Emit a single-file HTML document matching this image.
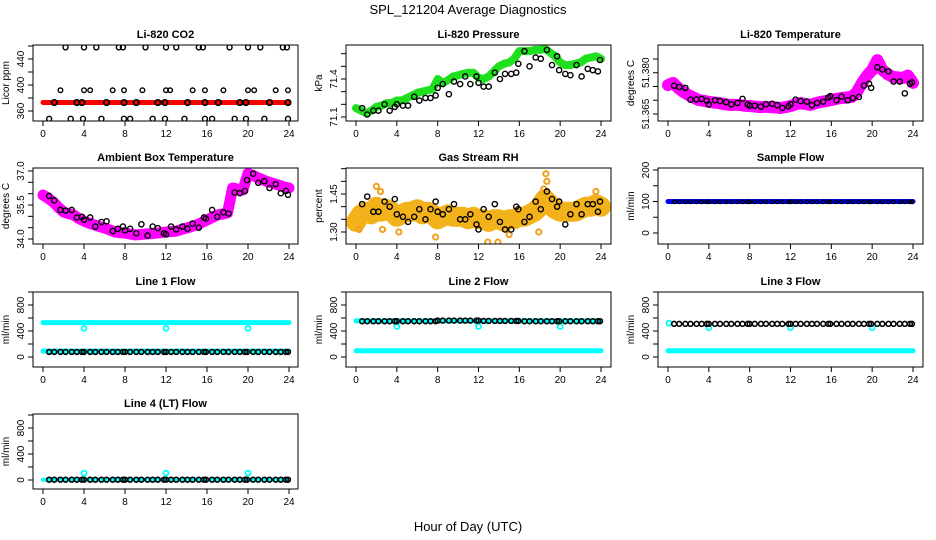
<!DOCTYPE html>
<html><head><meta charset="utf-8">
<style>
html,body{margin:0;padding:0;background:#fff;}
svg{display:block;font-family:"Liberation Sans",Arial,sans-serif;}
</style></head>
<body>
<svg id="chart" width="936" height="540" viewBox="0 0 936 540" xmlns="http://www.w3.org/2000/svg">
<text x="468" y="14" text-anchor="middle" font-size="13">SPL_121204  Average Diagnostics</text>
<text x="468" y="531" text-anchor="middle" font-size="13">Hour of Day (UTC)</text>
</svg>
<script>
// ---------- DATA ----------
const halfHours = [0,0.5,1,1.5,2,2.5,3,3.5,4,4.5,5,5.5,6,6.5,7,7.5,8,8.5,9,9.5,10,10.5,11,11.5,12,12.5,13,13.5,14,14.5,15,15.5,16,16.5,17,17.5,18,18.5,19,19.5,20,20.5,21,21.5,22,22.5,23,23.5,24];
const blackTimes = [0.6,1.1,1.7,2.2,2.8,3.3,3.8,4,4.6,5.1,5.7,6.2,6.8,7.3,7.8,8,8.5,9.1,9.6,10.2,10.7,11.2,11.8,12,12.5,13,13.6,14.1,14.6,15.2,15.7,15.9,16.5,17,17.6,18.1,18.7,19.2,19.7,19.9,20.5,21,21.6,22.1,22.7,23.2,23.7,23.9];

// CO2
const co2Red = [373,373,373,373,373,373,373,373,373,373,373,373,373,373,373,373,373,373,373,373,373,373,373,373,373,373,373,373,373,373,373,373,373,373,373,373,373,373,373,373,373,373,373,373,373,373,373,373,373];
const co2HighT = [2.2,4,5.2,7.4,7.8,10,12,13,15.2,15.6,18.2,20,21.2,23.4,23.8];
const co2HighV = [458,458,458,458,458,458,458,458,458,458,458,458,458,458,458];
const co2MidT = [1.7,4,4.6,6.8,7.9,9.7,12,12.4,14.6,15.8,17.6,20,20.6,22.7,23.9];
const co2MidV = [392,392,392,392,392,392,392,392,392,392,392,392,392,392,392];
const co2LowT = [0.6,2.7,3.9,5.7,7.9,8.5,10.7,11.9,13.8,15.8,16.5,18.7,19.8,21.6,23.9];
const co2LowV = [348,348,348,348,348,348,348,348,348,348,348,348,348,348,348];
const co2OnT = [1.1,3.3,3.8,6.2,7.9,9.1,11.2,11.9,14.1,15.8,17.1,19.2,19.8,22.1,23.9];
const co2OnV = [373,373,373,373,373,373,373,373,373,373,373,373,373,373,373];

// Pressure
const presGreen = [71.17,71.15,71.13,71.15,71.18,71.19,71.21,71.21,71.23,71.23,71.25,71.27,71.29,71.3,71.31,71.32,71.4,71.37,71.39,71.42,71.43,71.44,71.45,71.45,71.41,71.4,71.42,71.46,71.5,71.52,71.53,71.56,71.62,71.62,71.62,71.63,71.63,71.64,71.61,71.58,71.53,71.51,71.51,71.52,71.53,71.56,71.57,71.58,71.56];
const presBlack = [71.17,71.12,71.15,71.15,71.2,71.15,71.18,71.2,71.19,71.19,71.26,71.23,71.25,71.25,71.27,71.33,71.36,71.28,71.38,71.36,71.42,71.36,71.42,71.37,71.34,71.34,71.45,71.4,71.44,71.44,71.45,71.52,71.62,71.5,71.57,71.56,71.63,71.51,71.58,71.47,71.44,71.43,71.51,71.42,71.48,71.47,71.46,71.55];

// Li-820 temperature
const tempMag = [51.3755,51.3763,51.3745,51.373,51.3719,51.371,51.3701,51.3698,51.3694,51.3692,51.369,51.3686,51.3683,51.3683,51.3683,51.368,51.3679,51.3677,51.3675,51.3676,51.3675,51.3674,51.3672,51.3675,51.3679,51.3685,51.369,51.3686,51.3683,51.369,51.3694,51.3697,51.3701,51.3705,51.3708,51.371,51.3712,51.373,51.3763,51.379,51.381,51.3846,51.381,51.3795,51.3785,51.3783,51.3781,51.379,51.3763];
const tempBlack = [51.3753,51.3748,51.3745,51.3702,51.3703,51.3705,51.3698,51.3685,51.37,51.3697,51.3693,51.3685,51.369,51.3705,51.3685,51.368,51.368,51.3677,51.3685,51.3687,51.3682,51.3672,51.3678,51.3685,51.3702,51.3697,51.3695,51.3682,51.369,51.3695,51.371,51.3715,51.37,51.3713,51.37,51.3708,51.3712,51.3753,51.376,51.3745,51.382,51.3812,51.3805,51.3768,51.3768,51.3725,51.376,51.3765];

// Ambient box temperature
const ambMag = [35.94,35.8,35.63,35.4,35.19,35.12,35.06,34.9,34.79,34.7,34.62,34.55,34.48,34.4,34.31,34.28,34.26,34.22,34.18,34.2,34.22,34.24,34.26,34.28,34.31,34.33,34.35,34.42,34.48,34.55,34.62,34.73,34.84,34.95,35.06,35.1,35.15,36.25,36.2,36.16,36.9,36.8,36.69,36.6,36.51,36.45,36.38,36.3,36.25];
const ambBlack = [35.9,35.7,35.28,35.25,35.28,34.95,34.98,34.85,34.95,34.55,34.75,34.78,34.35,34.45,34.55,34.38,34.45,34.25,34.65,34.15,34.55,34.48,34.25,34.2,34.55,34.42,34.55,34.45,34.68,34.5,34.95,34.9,35.28,34.98,35.18,35.12,36.05,36.02,36.12,36.6,36.88,36.48,36.55,36.25,36.42,36.02,36.12,35.95];

// Gas stream RH
const rhYellow = [1.34,1.37,1.38,1.37,1.4,1.38,1.39,1.38,1.36,1.37,1.38,1.38,1.39,1.37,1.38,1.37,1.35,1.36,1.37,1.36,1.36,1.36,1.35,1.36,1.35,1.35,1.34,1.35,1.35,1.34,1.35,1.35,1.36,1.36,1.37,1.38,1.4,1.43,1.41,1.39,1.38,1.38,1.38,1.38,1.39,1.4,1.4,1.41,1.4];
const rhOutT = [2,2.4,0.3,2.6,4.2,7.8,12.9,13.9,15,17.9,18.6,18.7,18.4,23.5];
const rhOutV = [1.48,1.46,1.31,1.31,1.3,1.28,1.26,1.26,1.29,1.3,1.53,1.5,1.47,1.46];
const rhBlack = [1.41,1.44,1.38,1.38,1.42,1.4,1.43,1.37,1.36,1.34,1.36,1.39,1.35,1.39,1.42,1.38,1.37,1.39,1.41,1.35,1.35,1.37,1.33,1.31,1.39,1.36,1.41,1.34,1.31,1.31,1.4,1.39,1.34,1.36,1.42,1.39,1.46,1.43,1.4,1.42,1.33,1.37,1.41,1.37,1.41,1.41,1.38,1.42];

// Flows (ml/min)
const sampleBlue = [100,100,100,100,100,100,100,100,100,100,100,100,100,100,100,100,100,100,100,100,100,100,100,100,100,100,100,100,100,100,100,100,100,100,100,100,100,100,100,100,100,100,100,100,100,100,100,100,100];
const sampleBlack = [99,99,99,99,99,99,99,99,99,99,99,99,99,99,99,99,99,99,99,99,99,99,99,99,99,99,99,99,99,99,99,99,99,99,99,99,99,99,99,99,99,99,99,99,99,99,99,99];
const line1Cyan = [530,530,530,530,530,530,530,530,530,530,530,530,530,530,530,530,530,530,530,530,530,530,530,530,530,530,530,530,530,530,530,530,530,530,530,530,530,530,530,530,530,530,530,530,530,530,530,530,530];
const line1CyanLow = [90,90,90,90,90,90,90,90,90,90,90,90,90,90,90,90,90,90,90,90,90,90,90,90,90,90,90,90,90,90,90,90,90,90,90,90,90,90,90,90,90,90,90,90,90,90,90,90,90];
const line1Black = [78,78,78,78,78,78,78,78,78,78,78,78,78,78,78,78,78,78,78,78,78,78,78,78,78,78,78,78,78,78,78,78,78,78,78,78,78,78,78,78,78,78,78,78,78,78,78,78];
const dipT = [4,12,20];
const line1DipV = [440,440,440];
const line2CyanHigh = [555,555,555,555,555,555,555,555,555,555,555,555,555,555,555,555,555,555,555,555,555,555,555,555,555,555,555,555,555,555,555,555,555,555,555,555,555,555,555,555,555,555,555,555,555,555,555,555,555];
const line2CyanLow = [95,95,95,95,95,95,95,95,95,95,95,95,95,95,95,95,95,95,95,95,95,95,95,95,95,95,95,95,95,95,95,95,95,95,95,95,95,95,95,95,95,95,95,95,95,95,95,95,95];
const line2Black = [550,550,550,550,550,550,550,550,550,550,550,550,550,550,550,560,560,560,560,560,560,560,560,560,555,555,555,555,555,555,555,555,550,550,550,550,550,550,550,550,550,550,550,550,550,550,550,550];
const line2DipV = [470,470,470];
const line3CyanLow = [95,95,95,95,95,95,95,95,95,95,95,95,95,95,95,95,95,95,95,95,95,95,95,95,95,95,95,95,95,95,95,95,95,95,95,95,95,95,95,95,95,95,95,95,95,95,95,95,95];
const line3Black = [510,510,510,510,510,510,510,510,510,510,510,510,510,510,510,510,510,510,510,510,510,510,510,510,510,510,510,510,510,510,510,510,510,510,510,510,510,510,510,510,510,510,510,510,510,510,510,510];
const line3StartV = [520];
const line3DipV = [450,450,450];
const line4Black = [5,5,5,5,5,5,5,5,5,5,5,5,5,5,5,5,5,5,5,5,5,5,5,5,5,5,5,5,5,5,5,5,5,5,5,5,5,5,5,5,5,5,5,5,5,5,5,5];
const line4Cyan = [5,5,5,5,5,5,5,5,5,5,5,5,5,5,5,5,5,5,5,5,5,5,5,5,5,5,5,5,5,5,5,5,5,5,5,5,5,5,5,5,5,5,5,5,5,5,5,5,5];
const line4SpikeV = [105,105,105];
const xTicks = [0,4,8,12,16,20,24];

// ---------- DRAWING ----------
const NS = "http://www.w3.org/2000/svg";
const svg = document.getElementById("chart");
function mk(tag, attrs, parent) {
  const e = document.createElementNS(NS, tag);
  for (const k in attrs) e.setAttribute(k, attrs[k]);
  (parent || svg).appendChild(e);
  return e;
}

function makePanel(c) {
  const g = mk("g", {});
  
  
  const X = t => c.tx0 + (t / 24) * (c.tx1 - c.tx0);
  const Y = v => c.pLo + (v - c.vLo) * (c.pHi - c.pLo) / (c.vHi - c.vLo);
  const clip = "clip-" + c.name;
  const cp = mk("clipPath", {id: clip}, g);
  mk("rect", {x: c.bx0, y: c.by0, width: c.bx1 - c.bx0, height: c.by1 - c.by0}, cp);
  const plot = mk("g", {"clip-path": "url(#" + clip + ")"}, g);
  
  
  const tt = mk("text", {x: (c.bx0 + c.bx1) / 2, y: c.by0 - 7, "text-anchor": "middle", "font-size": "11", "font-weight": "bold"}, g);
  tt.textContent = c.title;
  
  
  const box = mk("rect", {x: c.bx0, y: c.by0, width: c.bx1 - c.bx0, height: c.by1 - c.by0, fill: "none", stroke: "#000", "stroke-width": "1"}, g);
  
  
  const xa = mk("g", {}, g);
  
  
  xTicks.forEach(t => {
    mk("line", {x1: X(t), x2: X(t), y1: c.by1, y2: c.by1 + 5, stroke: "#000"}, xa);
    const lb = mk("text", {x: X(t), y: c.by1 + 16, "text-anchor": "middle", "font-size": "10"}, xa);
    lb.textContent = t;
    
    
  });
  mk("line", {x1: X(0), x2: X(24), y1: c.by1, y2: c.by1, stroke: "#000"}, xa);
  const ya = mk("g", {}, g);
  
  
  c.yticks.forEach(v => {
    const y = Y(v);
    if (y < c.by0 - 1 || y > c.by1 + 1) return;
    mk("line", {x1: c.bx0 - 5, x2: c.bx0, y1: y, y2: y, stroke: "#000"}, ya);
  });
  c.ylabels.forEach(v => {
    const y = Y(v), lx = c.bx0 - 9;
    const lb = mk("text", {x: lx, y: y, "text-anchor": "middle", "font-size": "10", transform: "rotate(-90 " + lx + " " + y + ")"}, ya);
    lb.textContent = v.toFixed(c.dec);
    
    
  });
  const ytx = c.bx0 - 24, ymid = (c.by0 + c.by1) / 2;
  const yt = mk("text", {x: ytx, y: ymid, "text-anchor": "middle", "font-size": "10", transform: "rotate(-90 " + ytx + " " + ymid + ")"}, g);
  yt.textContent = c.ylab;
  
  
  return {X, Y, plot};
}

function band(p, ts, vs, color, w, name) {
  const pts = ts.map((t, i) => p.X(t).toFixed(1) + "," + p.Y(vs[i]).toFixed(1)).join(" ");
  const pl = mk("polyline", {points: pts, fill: "none", stroke: color, "stroke-width": w, "stroke-linejoin": "round", "stroke-linecap": "round"}, p.plot);
  
  
}
function points(p, ts, vs, color, r, name, sw) {
  const g = mk("g", {}, p.plot);
  
  
  ts.forEach((t, i) => {
    const c = mk("circle", {cx: p.X(t), cy: p.Y(vs[i]), r: r, fill: "none", stroke: color, "stroke-width": sw || 1.4}, g);
    
    
  });
}

const col = [{bx0: 33, bx1: 298, tx0: 43, tx1: 289}, {bx0: 346, bx1: 611, tx0: 356, tx1: 601}, {bx0: 658, bx1: 923, tx0: 668, tx1: 913}];
const row = [{by0: 45, by1: 121}, {by0: 168, by1: 244}, {by0: 292, by1: 367}, {by0: 414, by1: 489}];
function cfg(ci, ri, o) { return Object.assign({}, col[ci], row[ri], o); }
const flowTicks = [0, 200, 400, 600, 800, 1000];

let p = makePanel(cfg(0, 0, {name: "co2", title: "Li-820 CO2", ylab: "Licor ppm", vLo: 360, pLo: 111, vHi: 440, pHi: 59, yticks: [360,380,400,420,440,460], ylabels: [360,400,440], dec: 0}));
band(p, halfHours, co2Red, "#ff0000", 5, "co2-red-series");
points(p, co2HighT, co2HighV, "#000", 2.5, "co2-black-high");
points(p, co2MidT, co2MidV, "#000", 2.3, "co2-black-mid");
points(p, co2LowT, co2LowV, "#000", 2.5, "co2-black-low");
points(p, co2OnT, co2OnV, "#000", 2.7, "co2-black-on-line", 1.8);

p = makePanel(cfg(1, 0, {name: "pressure", title: "Li-820 Pressure", ylab: "kPa", vLo: 71.1, pLo: 117, vHi: 71.4, pHi: 79, yticks: [71.1,71.2,71.3,71.4,71.5,71.6], ylabels: [71.1,71.4], dec: 1}));
band(p, halfHours, presGreen, "#1ee01e", 8, "pressure-green-series");
points(p, blackTimes, presBlack, "#000", 2.6, "pressure-black-series");

p = makePanel(cfg(2, 0, {name: "li820-temp", title: "Li-820 Temperature", ylab: "degrees C", vLo: 51.365, pLo: 114, vHi: 51.385, pHi: 59, yticks: [51.365,51.37,51.375,51.38,51.385], ylabels: [51.365,51.38], dec: 3}));
band(p, halfHours, tempMag, "#ff00ff", 12, "temp-magenta-series");
points(p, blackTimes, tempBlack, "#000", 2.6, "temp-black-series");

p = makePanel(cfg(0, 1, {name: "ambient", title: "Ambient Box Temperature", ylab: "degrees C", vLo: 34, pLo: 239, vHi: 37, pHi: 171, yticks: [34,34.5,35,35.5,36,36.5,37], ylabels: [34,35.5,37], dec: 1}));
band(p, halfHours, ambMag, "#ff00ff", 11, "ambient-magenta-series");
points(p, blackTimes, ambBlack, "#000", 2.6, "ambient-black-series");

p = makePanel(cfg(1, 1, {name: "rh", title: "Gas Stream RH", ylab: "percent", vLo: 1.30, pLo: 232, vHi: 1.45, pHi: 194, yticks: [1.3,1.35,1.4,1.45,1.5,1.55], ylabels: [1.30,1.45], dec: 2}));
band(p, halfHours, rhYellow, "#f3b21a", 20, "rh-yellow-series");
points(p, rhOutT, rhOutV, "#f0a020", 2.6, "rh-yellow-outliers", 2);
points(p, blackTimes, rhBlack, "#000", 2.6, "rh-black-series");

p = makePanel(cfg(2, 1, {name: "sample-flow", title: "Sample Flow", ylab: "ml/min", vLo: 0, pLo: 233, vHi: 200, pHi: 170, yticks: [0,50,100,150,200], ylabels: [0,100,200], dec: 0}));
band(p, halfHours, sampleBlue, "#0000ff", 5, "sample-blue-series");
points(p, blackTimes, sampleBlack, "#000", 1.8, "sample-black-series", 1.2);

p = makePanel(cfg(0, 2, {name: "line1-flow", title: "Line 1 Flow", ylab: "ml/min", vLo: 0, pLo: 357, vHi: 800, pHi: 305, yticks: flowTicks, ylabels: [0,400,800], dec: 0}));
band(p, halfHours, line1Cyan, "#00ffff", 5, "line1-cyan-high");
band(p, halfHours, line1CyanLow, "#00ffff", 5, "line1-cyan-low");
points(p, dipT, line1DipV, "#00ffff", 2.5, "line1-cyan-dips", 1.8);
points(p, blackTimes, line1Black, "#000", 2.4, "line1-black-series", 1.6);

p = makePanel(cfg(1, 2, {name: "line2-flow", title: "Line 2 Flow", ylab: "ml/min", vLo: 0, pLo: 357, vHi: 800, pHi: 305, yticks: flowTicks, ylabels: [0,400,800], dec: 0}));
band(p, halfHours, line2CyanHigh, "#00ffff", 5, "line2-cyan-high");
band(p, halfHours, line2CyanLow, "#00ffff", 5, "line2-cyan-low");
points(p, dipT, line2DipV, "#00ffff", 2.5, "line2-cyan-dips", 1.8);
points(p, blackTimes, line2Black, "#000", 2.4, "line2-black-series", 1.6);

p = makePanel(cfg(2, 2, {name: "line3-flow", title: "Line 3 Flow", ylab: "ml/min", vLo: 0, pLo: 357, vHi: 800, pHi: 305, yticks: flowTicks, ylabels: [0,400,800], dec: 0}));
band(p, halfHours, line3CyanLow, "#00ffff", 5, "line3-cyan-low");
points(p, [0.1], line3StartV, "#00ffff", 2.5, "line3-cyan-start", 2);
points(p, dipT, line3DipV, "#00ffff", 2.5, "line3-cyan-dips", 1.8);
points(p, blackTimes, line3Black, "#000", 2.4, "line3-black-series", 1.6);

p = makePanel(cfg(0, 3, {name: "line4-flow", title: "Line 4 (LT) Flow", ylab: "ml/min", vLo: 0, pLo: 480, vHi: 800, pHi: 428, yticks: flowTicks, ylabels: [0,400,800], dec: 0}));
band(p, halfHours, line4Cyan, "#00ffff", 4, "line4-cyan-series");
points(p, dipT, line4SpikeV, "#00ffff", 2.5, "line4-cyan-spikes", 1.8);
points(p, blackTimes, line4Black, "#000", 2.4, "line4-black-series", 1.6);
</script>
</body></html>
